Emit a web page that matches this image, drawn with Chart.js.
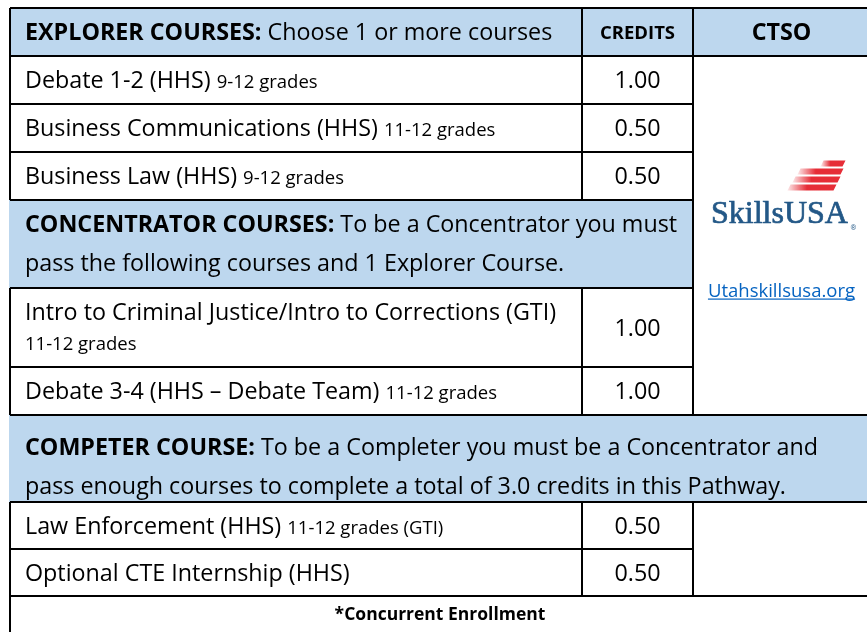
<!DOCTYPE html>
<html>
<head>
<meta charset="utf-8">
<title>CTE Pathway</title>
<script src="https://cdn.jsdelivr.net/npm/chart.js@4.4.0/dist/chart.umd.min.js"></script>
<style>
    html, body { margin: 0; padding: 0; background: #fff; }
    #wrap { width: 867px; height: 632px; }
</style>
</head>
<body>
<div id="wrap"><canvas id="pathwayTable" width="867" height="632"></canvas></div>
<script>
// Data
const headerTitle = 'EXPLORER COURSES:';
const headerNote = ' Choose 1 or more courses';
const columnLabels = ['CREDITS', 'CTSO'];

const explorerCourses = ['Debate 1-2 (HHS)', 'Business Communications (HHS)', 'Business Law (HHS)'];
const explorerGrades = ['9-12 grades', '11-12 grades', '9-12 grades'];
const explorerCredits = [1.00, 0.50, 0.50];

const concentratorTitle = 'CONCENTRATOR COURSES:';
const concentratorNote = [' To be a Concentrator you must', 'pass the following courses and 1 Explorer Course.'];
const concentratorCourses = ['Intro to Criminal Justice/Intro to Corrections (GTI)', 'Debate 3-4 (HHS \u2013 Debate Team)'];
const concentratorGrades = ['11-12 grades', '11-12 grades'];
const concentratorCredits = [1.00, 1.00];

const completerTitle = 'COMPETER COURSE:';
const completerNote = [' To be a Completer you must be a Concentrator and', 'pass enough courses to complete a total of 3.0 credits in this Pathway.'];
const completerCourses = ['Law Enforcement (HHS)', 'Optional CTE Internship (HHS)'];
const completerGrades = ['11-12 grades (GTI)', ''];
const completerCredits = [0.50, 0.50];

const ctsoName = 'SkillsUSA';
const ctsoLink = 'Utahskillsusa.org';
const footNote = '*Concurrent Enrollment';

// Layout (scale units == px here)
const COL_EDGES = [10, 582, 693, 870];
const TABLE_TOP = 8;
const HEAD_H = 48;
const ROW_H = [48, 48, 47];
const WRAP_ROW_H = 79;
const SECTION_H = [88, 87];
const SECTION_LINES = [[24, 63], [32, 71]];
const FOOT_H = 50;
const PAD = 15;
const MAIN = 23.3;
const SMALL = 18.5;
const FOOT_SIZE = 17.5;
const BLUE = '#bdd7ee';
const FONT = '"Open Sans", "DejaVu Sans", sans-serif';

function font(size, bold) {
    return (bold ? 'bold ' : '') + size + 'px ' + FONT;
}

// draw a list of text runs on one baseline
function drawRuns(ctx, runs, x, y, align) {
    let total = 0;
    runs.forEach(r => { ctx.font = font(r.size, r.bold); r.w = ctx.measureText(r.t).width; total += r.w; });
    let cur = align === 'center' ? x - total / 2 : x;
    ctx.textAlign = 'left';
    ctx.textBaseline = 'alphabetic';
    runs.forEach(r => {
        ctx.font = font(r.size, r.bold);
        ctx.fillText(r.t, cur, y);
        cur += r.w;
    });
}

function buildRows(ctx, maxW) {
    const rows = [];
    let y = TABLE_TOP;
    const add = (r, h) => { r.top = y; r.bottom = y + h; y += h; rows.push(r); return r; };

    add({ kind: 'head' }, HEAD_H);
    const courses = (names, grades, credits, h, group) => names.forEach((n, i) => {
        ctx.font = font(MAIN); const w1 = ctx.measureText(n + ' ').width;
        ctx.font = font(SMALL); const w2 = ctx.measureText(grades[i]).width;
        const wrap = w1 + w2 > maxW;
        add({ kind: 'course', name: n, grade: grades[i], credit: credits[i], wrap, group }, wrap ? WRAP_ROW_H : h);
    });
    courses(explorerCourses, explorerGrades, explorerCredits, ROW_H[0], 'logo');
    add({ kind: 'section', title: concentratorTitle, note: concentratorNote, span: 2, lines: SECTION_LINES[0] }, SECTION_H[0]);
    courses(concentratorCourses, concentratorGrades, concentratorCredits, ROW_H[1], 'logo');
    add({ kind: 'section', title: completerTitle, note: completerNote, span: 3, lines: SECTION_LINES[1] }, SECTION_H[1]);
    courses(completerCourses, completerGrades, completerCredits, ROW_H[2], 'blank');
    add({ kind: 'foot' }, FOOT_H);
    return rows;
}

const tablePlugin = {
    id: 'pathwayTable',
    afterDraw(chart) {
        const ctx = chart.ctx;
        const xs = chart.scales.x, ys = chart.scales.y;
        const cx = COL_EDGES.map(v => Math.round(xs.getPixelForValue(v)));
        const py = v => Math.round(ys.getPixelForValue(v));
        const rows = buildRows(ctx, cx[1] - cx[0] - 2 * PAD);

        const cells = [];
        rows.forEach(r => {
            const t = py(r.top), b = py(r.bottom);
            if (r.kind === 'head') {
                for (let c = 0; c < 3; c++) cells.push({ x0: cx[c], x1: cx[c + 1], y0: t, y1: b, fill: BLUE });
            } else if (r.kind === 'course') {
                cells.push({ x0: cx[0], x1: cx[1], y0: t, y1: b });
                cells.push({ x0: cx[1], x1: cx[2], y0: t, y1: b });
            } else if (r.kind === 'section') {
                cells.push({ x0: cx[0], x1: cx[r.span], y0: t, y1: b, fill: BLUE, noLeft: true });
            } else {
                cells.push({ x0: cx[0], x1: cx[3], y0: t, y1: b });
            }
        });
        // merged CTSO cells
        const merged = {};
        rows.filter(r => r.group).forEach(r => {
            const m = merged[r.group] || (merged[r.group] = { top: r.top, bottom: r.bottom });
            m.bottom = r.bottom;
        });
        Object.keys(merged).forEach(k => {
            cells.push({ x0: cx[2], x1: cx[3], y0: py(merged[k].top), y1: py(merged[k].bottom), group: k });
        });

        ctx.save();
        // fills
        cells.filter(c => c.fill).forEach(c => {
            ctx.fillStyle = c.fill;
            ctx.fillRect(c.x0 - 1, c.y0, c.x1 - c.x0 + 1, c.y1 - c.y0);
        });

        // text
        ctx.fillStyle = '#000';
        rows.forEach(r => {
            const t = py(r.top), b = py(r.bottom);
            const mid = (t + b) / 2;
            if (r.kind === 'head') {
                drawRuns(ctx, [{ t: headerTitle, size: MAIN, bold: true }, { t: headerNote, size: MAIN }], cx[0] + PAD, mid + 8, 'left');
                drawRuns(ctx, [{ t: columnLabels[0], size: SMALL, bold: true }], (cx[1] + cx[2]) / 2, mid + 7, 'center');
                drawRuns(ctx, [{ t: columnLabels[1], size: MAIN, bold: true }], (cx[2] + cx[3]) / 2, mid + 8, 'center');
            } else if (r.kind === 'course') {
                if (r.wrap) {
                    drawRuns(ctx, [{ t: r.name, size: MAIN }], cx[0] + PAD, t + 32, 'left');
                    drawRuns(ctx, [{ t: r.grade, size: SMALL }], cx[0] + PAD, t + 62, 'left');
                } else {
                    drawRuns(ctx, [{ t: r.name + ' ', size: MAIN }, { t: r.grade, size: SMALL }], cx[0] + PAD, mid + 8, 'left');
                }
                drawRuns(ctx, [{ t: r.credit.toFixed(2), size: MAIN }], (cx[1] + cx[2]) / 2, mid + 8, 'center');
            } else if (r.kind === 'section') {
                drawRuns(ctx, [{ t: r.title, size: MAIN, bold: true }, { t: r.note[0], size: MAIN }], cx[0] + PAD, t + r.lines[0] + 8, 'left');
                drawRuns(ctx, [{ t: r.note[1], size: MAIN }], cx[0] + PAD, t + r.lines[1] + 8, 'left');
            } else {
                drawRuns(ctx, [{ t: footNote, size: FOOT_SIZE, bold: true }], (cx[0] + cx[3]) / 2, t + 24, 'center');
            }
        });

        // CTSO logo and link
        const logo = cells.find(c => c.group === 'logo');
        if (logo) {
            const lx = (logo.x0 + logo.x1) / 2;
            const ly = (logo.y0 + logo.y1) / 2;
            const stripes = [[40, 62, -75], [17, 60, -67], [12, 57, -59], [7, 53, -51]];
            stripes.forEach(s => {
                const x0 = lx + s[0], x1 = lx + s[1], y0 = ly + s[2], h = 6;
                const g = ctx.createLinearGradient(x0, 0, x1, 0);
                g.addColorStop(0, 'rgba(230,45,55,0.15)');
                g.addColorStop(0.4, 'rgba(230,45,55,1)');
                g.addColorStop(1, 'rgba(230,45,55,1)');
                ctx.fillStyle = g;
                ctx.beginPath();
                ctx.moveTo(x0 + 2, y0);
                ctx.lineTo(x1 + 2, y0);
                ctx.lineTo(x1 - 1, y0 + h);
                ctx.lineTo(x0 - 1, y0 + h);
                ctx.closePath();
                ctx.fill();
            });
            ctx.fillStyle = '#235887';
            ctx.strokeStyle = '#235887';
            ctx.lineWidth = 0.7;
            ctx.font = '32px "Liberation Serif", "DejaVu Serif", serif';
            ctx.textAlign = 'center';
            ctx.textBaseline = 'alphabetic';
            ctx.fillText(ctsoName, lx - 2, ly - 13);
            ctx.strokeText(ctsoName, lx - 2, ly - 13);
            ctx.font = '7px ' + FONT;
            ctx.fillText('\u00ae', lx + 72, ly - 6);

            ctx.fillStyle = '#0563c1';
            ctx.font = font(SMALL);
            const lw = ctx.measureText(ctsoLink).width;
            ctx.fillText(ctsoLink, lx, ly + 61);
            ctx.fillRect(lx - lw / 2, ly + 63, lw, 1.2);
        }

        // borders
        ctx.strokeStyle = '#000';
        ctx.lineWidth = 2;
        cells.forEach(c => {
            ctx.beginPath();
            ctx.moveTo(c.x0, c.y0); ctx.lineTo(c.x1, c.y0);
            ctx.moveTo(c.x1, c.y0); ctx.lineTo(c.x1, c.y1);
            ctx.moveTo(c.x0, c.y1); ctx.lineTo(c.x1, c.y1);
            if (!c.noLeft) { ctx.moveTo(c.x0, c.y0); ctx.lineTo(c.x0, c.y1); }
            ctx.stroke();
        });
        ctx.restore();
    }
};

new Chart(document.getElementById('pathwayTable').getContext('2d'), {
    type: 'scatter',
    data: { datasets: [{ data: [] }] },
    options: {
        responsive: false,
        animation: false,
        devicePixelRatio: 1,
        layout: { padding: 0 },
        plugins: { legend: { display: false }, tooltip: { enabled: false } },
        scales: {
            x: { type: 'linear', min: 0, max: 867, display: false },
            y: { type: 'linear', min: 0, max: 632, reverse: true, display: false }
        }
    },
    plugins: [tablePlugin]
});
</script>
</body>
</html>
